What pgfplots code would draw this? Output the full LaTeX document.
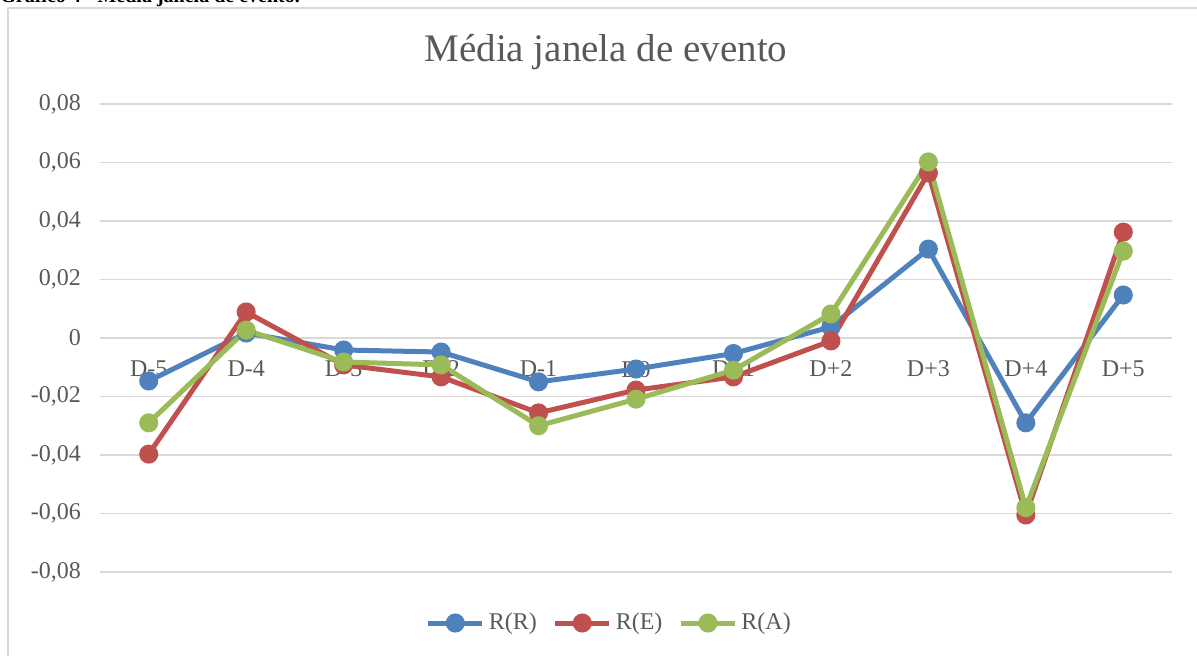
\documentclass[border=0pt]{standalone}
\usepackage{pgfplots}
\pgfplotsset{compat=1.18}
\usepackage{fontspec}
\setmainfont{Liberation Serif}
\definecolor{txt}{RGB}{89,89,89}
\definecolor{gridc}{RGB}{217,217,217}
\definecolor{cB}{RGB}{79,129,189}
\definecolor{cR}{RGB}{192,80,77}
\definecolor{cG}{RGB}{155,187,89}
\begin{document}
\begin{tikzpicture}
\useasboundingbox (0,0) rectangle (598.5pt,327.5pt);
\clip (0,0) rectangle (598.5pt,327.5pt);
\draw[gridc, line width=0.6pt] (4pt,-5pt) rectangle (605pt,323.5pt);
\node[anchor=base west, font=\bfseries\fontsize{10}{12}\selectfont, inner sep=0] at (0pt,326pt) {Gráfico 4 - Média janela de evento.};
\begin{axis}[
  at={(50pt,41.5pt)}, anchor=south west, scale only axis,
  width=536pt, height=234pt,
  xmin=-0.5, xmax=10.5, ymin=-0.08, ymax=0.08,
  axis x line*=middle, axis y line*=left,
  hide obscured x ticks=false,
  x axis line style={draw=gridc, line width=0.75pt, -},
  y axis line style={draw=none},
  xtick={0,1,2,3,4,5,6,7,8,9,10},
  xticklabels={D-5,D-4,D-3,D-2,D-1,D0,D+1,D+2,D+3,D+4,D+5},
  ytick={-0.08,-0.06,-0.04,-0.02,0,0.02,0.04,0.06,0.08},
  major tick length=0pt,
  ymajorgrids, grid style={draw=gridc, line width=0.75pt},
  tick label style={font=\fontsize{12}{14}\selectfont, text=txt},
  xticklabel style={anchor=north, yshift=-8pt},
  yticklabel style={anchor=east, xshift=-6pt},
  yticklabel={\pgfmathprintnumber[fixed, precision=2, use comma, assume math mode=true]{\tick}},
  scaled y ticks=false,
  title={Média janela de evento},
  title style={at={(axis description cs:0.472,1.085)}, anchor=center, font=\fontsize{19.5}{23}\selectfont, text=txt},
  legend columns=3,
  legend style={at={(axis description cs:0.476,-0.109)}, anchor=center, draw=none, fill=none,
    font=\fontsize{12}{14}\selectfont, text=txt,
    /tikz/every even column/.append style={column sep=6pt}},
  legend image code/.code={\draw[mark repeat=2,mark phase=2,#1] plot coordinates {(0pt,0pt)(13.5pt,0pt)(27pt,0pt)};},
  every axis plot/.append style={line width=2.5pt, mark=*, mark size=3.5pt},
  clip=false,
]
\addplot[cB, mark options={fill=cB, draw=cB}] coordinates {
(0,-0.0147) (1,0.0017) (2,-0.0041) (3,-0.0048) (4,-0.0150) (5,-0.0106)
(6,-0.0053) (7,0.0038) (8,0.0304) (9,-0.0290) (10,0.0147)};
\addlegendentry{R(R)}
\addplot[cR, mark options={fill=cR, draw=cR}] coordinates {
(0,-0.0397) (1,0.0089) (2,-0.0092) (3,-0.0133) (4,-0.0256) (5,-0.0178)
(6,-0.0133) (7,-0.0010) (8,0.0564) (9,-0.0605) (10,0.0362)};
\addlegendentry{R(E)}
\addplot[cG, mark options={fill=cG, draw=cG}] coordinates {
(0,-0.0290) (1,0.0027) (2,-0.0082) (3,-0.0092) (4,-0.0300) (5,-0.0209)
(6,-0.0110) (7,0.0082) (8,0.0602) (9,-0.0580) (10,0.0297)};
\addlegendentry{R(A)}
\end{axis}
\end{tikzpicture}
\end{document}
